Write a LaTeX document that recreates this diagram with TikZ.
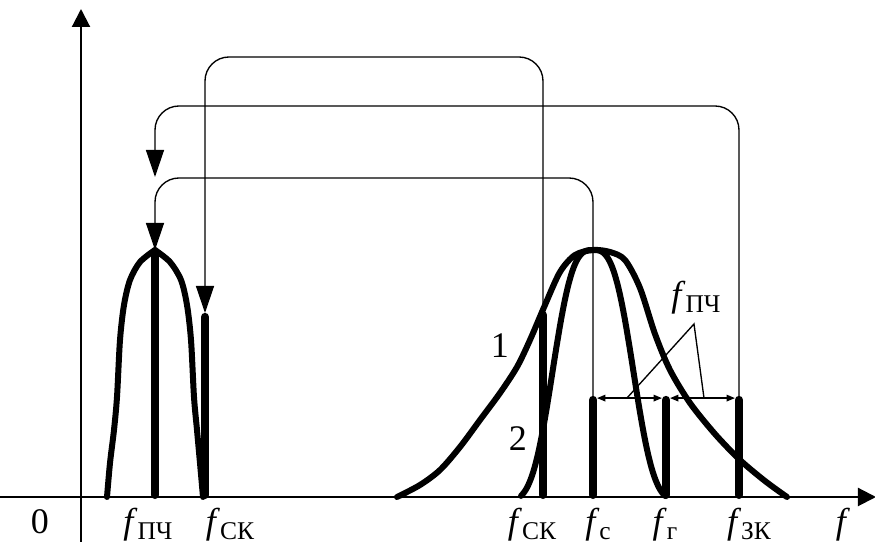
\documentclass[tikz,border=0pt]{standalone}
\usepackage{fontspec}
\setmainfont{Liberation Serif}
\usetikzlibrary{arrows.meta}
\tikzset{
  axis/.style={
    line width=0.7pt,
    -{Triangle[length=6pt,width=6pt]}
  },
  curve/.style={
    line width=2pt,
    line cap=round,
    line join=round
  },
  bar/.style={
    line width=2.7pt,
    line cap=round
  },
  link/.style={
    line width=0.45pt,
    rounded corners=8pt,
    -{Triangle[length=9pt,width=6pt]}
  },
  dim/.style={
    line width=0.45pt,
    {Triangle[length=2.8pt,width=2.2pt]}-{Triangle[length=2.8pt,width=2.2pt]}
  },
  lbl/.style={
    inner sep=0pt,
    anchor=base,
    font=\fontsize{12}{14}\selectfont
  }
}
\newcommand\fsub[1]{\textit{f}\raisebox{-2pt}{\fontsize{8.5}{9}\selectfont #1}}

\begin{document}
\begin{tikzpicture}[x=0.3333pt,y=-0.3333pt]
        \useasboundingbox (0,0) rectangle (875,542);

        % axes
        \coordinate (ybot) at (81,542);
        \coordinate (ytop) at (81,9);
        \coordinate (xl) at (0,497);
        \coordinate (xr) at (876,497);
        \draw[axis] (ybot) -- (ytop);
        \draw[axis] (xl) -- (xr);

        % bar positions
        \coordinate (pch) at (155,495);  \coordinate (pchtop) at (155,250);
        \coordinate (ckL) at (205,495);  \coordinate (ckLtop) at (205,313);
        \coordinate (ckR) at (543,495);  \coordinate (ckRtop) at (543,311);
        \coordinate (c) at (593,495);    \coordinate (ctop) at (593,396);
        \coordinate (g) at (666,495);    \coordinate (gtop) at (666,396);
        \coordinate (zk) at (739,495);   \coordinate (zktop) at (739,396);
        \coordinate (mid) at (155,177);
        \coordinate (lvlA) at (0,57);
        \coordinate (lvlB) at (0,106);
        \coordinate (lvlC) at (0,178);

        % curves
        \draw[curve] plot[smooth] coordinates {(107,497) (110,463) (114,430) (117,397) (120,340) (124,305) (130,280) (140,262) (155,250)};
        \draw[curve] plot[smooth] coordinates {(155,250) (170,262) (181,280) (187,305) (191,340) (194,397) (197,430) (200,463) (203,497)};
        \draw[curve] plot[smooth] coordinates {(397,497) (420,485) (440,470) (460,447) (480,420) (500,393) (517,367) (530,340) (545,305) (560,272) (575,255) (593,250) (610,252) (625,260) (640,288) (655,334) (670,370) (690,403) (715,434) (740,460) (765,481) (787,497)};
        \draw[curve] plot[domain=-72:72, samples=61, smooth] ({593+\x}, {497-252*(exp(-(abs(\x)/46.5)^3)-0.02)});

        % bars
        \draw[bar] (pch) -- ([yshift=-1.3pt]pchtop);
        \draw[bar] (ckL) -- ([yshift=-1.3pt]ckLtop);
        \draw[bar] (ckR) -- ([yshift=-1.3pt]ckRtop);
        \draw[bar] (c) -- ([yshift=-1.3pt]ctop);
        \draw[bar] (g) -- ([yshift=-1.3pt]gtop);
        \draw[bar] (zk) -- ([yshift=-1.3pt]zktop);

        % links
        \draw[link] (ckRtop) -- (ckRtop |- lvlA) -| (ckLtop);
        \draw[link] (zktop) -- (zktop |- lvlB) -| (mid);
        \draw[link] (ctop) -- (ctop |- lvlC) -| (pchtop);

        % spacing
        \draw[dim] ([xshift=1.35pt,yshift=-0.7pt]ctop) -- ([xshift=-1.35pt,yshift=-0.7pt]gtop);
        \draw[dim] ([xshift=1.35pt,yshift=-0.7pt]gtop) -- ([xshift=-1.35pt,yshift=-0.7pt]zktop);
        \coordinate (lead) at (694,324);
        \draw[line width=0.45pt] (627,398) -- (lead) -- (704,398);
        \node[lbl] (lpch) at (696,307) {\fsub{ПЧ}};

        \node[lbl] (n1) at (500,358) {1};
        \node[lbl] (n2) at (518,451) {2};

        \node[lbl] (l0) at (40,534) {0};
        \node[lbl] (la) at (148,534) {\fsub{ПЧ}};
        \node[lbl] (lb) at (230,534) {\fsub{СК}};
        \node[lbl] (lc) at (532,534) {\fsub{СК}};
        \node[lbl] (ld) at (598,534) {\fsub{с}};
        \node[lbl] (le) at (665,534) {\fsub{г}};
        \node[lbl] (lf) at (749,534) {\fsub{ЗК}};
        \node[lbl] (lg) at (843,534) {\textit{f}};
\end{tikzpicture}
\end{document}
